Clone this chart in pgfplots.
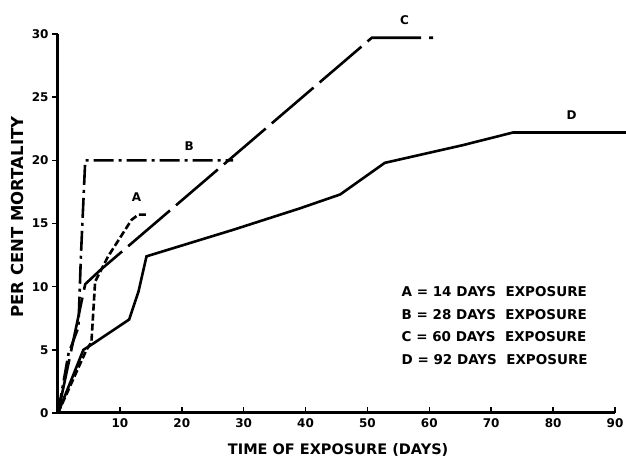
\documentclass[border=0pt]{standalone}
\usepackage{fontspec}
\setmainfont{DejaVu Sans}
\usepackage{pgfplots}
\pgfplotsset{compat=1.18}

\begin{document}
\begin{tikzpicture}
  \begin{axis}[
    scale only axis,
    width=557pt, height=379pt,
    xmin=0, xmax=90, ymin=0, ymax=30,
    axis x line=bottom, axis y line=left,
    axis line style={-, line width=3pt},
    clip=false,
    xtick={10,20,...,90},
    ytick={0,5,...,30},
    xtick align=inside, ytick align=outside,
    major tick length=6pt,
    tick style={black, line width=1.5pt},
    /pgf/number format/assume math mode=true,
    ticklabel style={font=\bfseries\fontsize{12}{14}\selectfont},
    xticklabel style={yshift=-2pt},
  ]
  % A = 14 days exposure
  \addplot[black, line width=2.6pt, dash pattern=on 7pt off 3pt] coordinates {
    (0,0) (4.6,5.0) (5.4,5.6) (6.0,10.4) (8.1,12.4) (11.9,15.3) (13,15.7) (14.3,15.7)
  };
  % B = 28 days exposure
  \addplot[black, line width=2.6pt, dash pattern=on 20pt off 5pt on 3pt off 5pt] coordinates {
    (0,0) (1.7,4.7) (3.3,6.8) (3.7,12.4) (4.4,20) (28.3,20)
  };
  % C = 60 days exposure
  \addplot[black, line width=2.6pt, dash pattern=on 55pt off 8pt] coordinates {
    (0,0) (4.4,10.2) (6.8,11.3) (50.7,29.7) (60.6,29.7)
  };
  % D = 92 days exposure
  \addplot[black, line width=2.6pt] coordinates {
    (0,0) (4.1,5.0) (5.7,5.5) (11.5,7.4) (13,9.6) (14.3,12.4) (28.3,14.5)
    (39.1,16.2) (45.6,17.3) (52.8,19.8) (65.4,21.2) (73.5,22.2) (92,22.2)
  };

  \node[font=\bfseries\fontsize{12}{14}\selectfont] at (axis cs:12.7,17.1) {A};
  \node[font=\bfseries\fontsize{12}{14}\selectfont] at (axis cs:21.2,21.1) {B};
  \node[font=\bfseries\fontsize{12}{14}\selectfont] at (axis cs:56,31.1) {C};
  \node[font=\bfseries\fontsize{12}{14}\selectfont] at (axis cs:83,23.6) {D};

  \node[anchor=north west, align=left, inner sep=0pt,
        font=\bfseries\fontsize{13.5}{22.5}\selectfont] at (axis cs:55.5,10)
    {A = 14 DAYS\ \ EXPOSURE\\B = 28 DAYS\ \ EXPOSURE\\C = 60 DAYS\ \ EXPOSURE\\D = 92 DAYS\ \ EXPOSURE};

  \node[font=\bfseries\fontsize{14.5}{16}\selectfont] at (axis description cs:0.503,0) [yshift=-37pt]
    {TIME OF EXPOSURE (DAYS)};
  \node[rotate=90, font=\bfseries\fontsize{16.5}{18}\selectfont] at (axis description cs:-0.0736,0.517)
    {PER CENT MORTALITY};
  \end{axis}
  \pgfresetboundingbox
  \path[use as bounding box] (-58pt,-49pt) rectangle (568pt,413pt);
\end{tikzpicture}
\end{document}
